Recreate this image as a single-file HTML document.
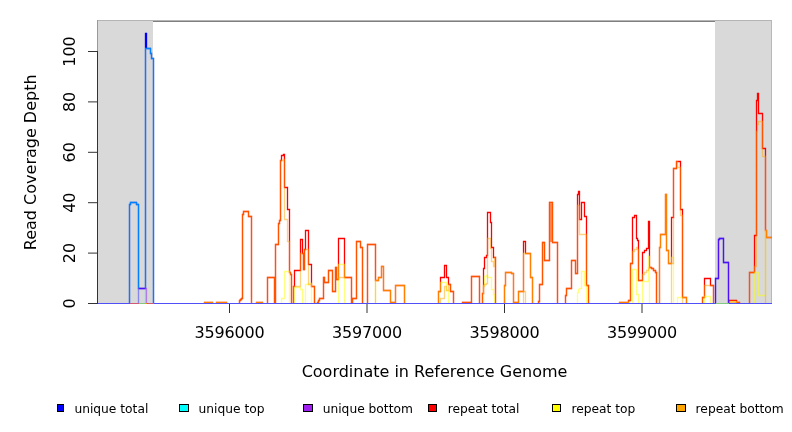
<!DOCTYPE html>
<html><head><meta charset="utf-8"><style>
html,body{margin:0;padding:0;background:#fff;width:792px;height:432px;overflow:hidden}
.t{font-family:"DejaVu Sans","Liberation Sans",sans-serif;font-size:16px;fill:#000}
.s{font-family:"DejaVu Sans","Liberation Sans",sans-serif;font-size:12.25px;fill:#000}
</style></head><body>
<svg width="792" height="432" viewBox="0 0 792 432" style="display:block;will-change:transform">
<rect width="792" height="432" fill="#fff"/>
<rect x="97" y="20" width="675" height="1" fill="#b4b4b4"/>
<rect x="97" y="21" width="675" height="1" fill="#7f7f7f"/>
<rect x="97" y="20" width="1" height="32" fill="#999"/>
<rect x="771" y="20" width="1" height="284" fill="#b8b8b8"/>
<rect x="98" y="21" width="55" height="282" fill="#d9d9d9"/>
<rect x="715" y="21" width="56" height="282" fill="#d9d9d9"/>
<path d="M204.5,303.5V302.5H212.5V303.5M216.5,303.5V302.5H226.5V303.5M239.5,303.5V300.5H240.5V299.5H241.5V298.5H242.5V214.5H243.5V211.5H248.5V216.5H251.5V303.5M256.5,303.5V302.5H262.5V303.5M267.5,303.5V277.5H274.5V303.5M275.5,303.5V244.5H278.5V223.5H279.5V220.5H280.5V160.5H281.5V155.5H283.5V154.5H284.5V187.5H287.5V209.5H289.5V272.5H290.5V274.5H291.5V303.5M293.5,303.5V286.5H294.5V270.5H300.5V239.5H302.5V253.5H303.5V269.5H304.5V249.5H305.5V230.5H308.5V264.5H311.5V286.5H314.5V303.5M317.5,303.5V302.5H318.5V300.5H319.5V298.5H323.5V277.5H324.5V282.5H328.5V270.5H332.5V291.5H335.5V267.5H336.5V279.5H338.5V238.5H344.5V277.5H351.5V303.5M352.5,303.5V298.5H356.5V241.5H360.5V247.5H362.5V303.5M367.5,303.5V244.5H375.5V280.5H378.5V277.5H381.5V266.5H383.5V290.5H390.5V302.5H395.5V285.5H404.5V303.5M438.5,303.5V291.5H440.5V277.5H444.5V265.5H446.5V277.5H448.5V284.5H450.5V291.5H453.5V303.5M462.5,303.5V302.5H471.5V276.5H479.5V303.5M482.5,303.5V293.5H483.5V268.5H484.5V257.5H486.5V255.5H487.5V212.5H490.5V222.5H491.5V247.5H493.5V257.5H495.5V303.5M504.5,303.5V285.5H505.5V272.5H511.5V273.5H513.5V302.5H518.5V291.5H523.5V241.5H525.5V253.5H530.5V277.5H532.5V303.5M538.5,303.5V301.5H539.5V284.5H542.5V242.5H544.5V260.5H549.5V202.5H552.5V242.5H557.5V303.5M565.5,303.5V295.5H566.5V288.5H571.5V260.5H575.5V273.5H577.5V194.5H578.5V191.5H579.5V219.5H581.5V202.5H584.5V216.5H586.5V285.5H588.5V303.5M619.5,303.5V302.5H628.5V300.5H630.5V263.5H632.5V217.5H634.5V215.5H636.5V238.5H637.5V240.5H638.5V280.5H642.5V252.5H644.5V250.5H646.5V248.5H648.5V221.5H649.5V267.5H651.5V268.5H653.5V270.5H655.5V272.5H656.5V303.5M659.5,303.5V247.5H660.5V234.5H665.5V194.5H666.5V250.5H668.5V263.5H671.5V217.5H673.5V168.5H676.5V161.5H680.5V209.5H682.5V297.5H686.5V303.5M702.5,303.5V297.5H704.5V278.5H710.5V285.5H713.5V303.5M729.5,303.5V300.5H736.5V302.5H739.5V303.5M749.5,303.5V272.5H754.5V235.5H756.5V100.5H757.5V93.5H758.5V113.5H762.5V148.5H765.5V230.5H766.5V237.5H772" fill="none" stroke="#ff0000" stroke-width="1.3"/>
<rect x="550" y="203" width="2" height="39" fill="#ff8050"/>
<path d="M204.5,303.5V302.5H212.5V303.5M216.5,303.5V302.5H226.5V303.5M256.5,303.5V302.5H262.5V303.5M281.5,303.5V298.5H284.5V271.5H289.5V303.5M294.5,303.5V287.5H300.5V289.5H302.5V303.5M305.5,303.5V284.5H308.5V283.5H311.5V303.5M338.5,303.5V264.5H344.5V303.5M375.5,303.5V280.5H378.5V277.5H381.5V266.5H383.5V290.5H390.5V302.5H395.5V285.5H404.5V303.5M438.5,303.5V291.5H440.5V282.5H446.5V290.5H448.5V303.5M483.5,303.5V285.5H484.5V276.5H486.5V275.5H487.5V277.5H491.5V289.5H493.5V294.5H494.5V303.5M504.5,303.5V285.5H505.5V272.5H511.5V273.5H513.5V302.5H518.5V291.5H523.5V253.5H530.5V277.5H532.5V303.5M577.5,303.5V292.5H578.5V289.5H579.5V288.5H581.5V271.5H584.5V285.5H586.5V303.5M619.5,303.5V302.5H628.5V303.5M632.5,303.5V269.5H636.5V294.5H638.5V303.5M642.5,303.5V281.5H648.5V256.5H649.5V303.5M659.5,303.5V247.5H660.5V234.5H665.5V194.5H666.5V250.5H668.5V263.5H671.5V257.5H673.5V303.5M677.5,303.5V297.5H686.5V303.5M704.5,303.5V296.5H710.5V303.5M729.5,303.5V301.5H736.5V303.5M754.5,303.5V272.5H758.5V295.5H765.5V230.5H766.5V237.5H772" fill="none" stroke="#ffff00" stroke-width="1.3" stroke-opacity="0.5"/>
<path d="M239.5,303.5V300.5H240.5V299.5H241.5V298.5H242.5V214.5H243.5V211.5H248.5V216.5H251.5V303.5M267.5,303.5V277.5H274.5V303.5M275.5,303.5V244.5H278.5V223.5H279.5V220.5H280.5V160.5H283.5V159.5H284.5V219.5H287.5V241.5H289.5V272.5H290.5V274.5H291.5V303.5M293.5,303.5V286.5H300.5V253.5H303.5V269.5H304.5V249.5H308.5V284.5H311.5V286.5H314.5V303.5M317.5,303.5V302.5H318.5V300.5H319.5V298.5H323.5V277.5H324.5V282.5H328.5V270.5H332.5V291.5H335.5V267.5H336.5V279.5H338.5V277.5H351.5V303.5M352.5,303.5V298.5H356.5V241.5H360.5V247.5H362.5V303.5M367.5,303.5V244.5H375.5V303.5M440.5,303.5V298.5H444.5V286.5H446.5V290.5H448.5V284.5H450.5V291.5H453.5V303.5M462.5,303.5V302.5H471.5V276.5H479.5V303.5M482.5,303.5V293.5H483.5V286.5H484.5V284.5H486.5V283.5H487.5V238.5H490.5V248.5H491.5V261.5H493.5V266.5H494.5V257.5H495.5V303.5M523.5,303.5V291.5H525.5V303.5M538.5,303.5V301.5H539.5V284.5H542.5V242.5H544.5V260.5H549.5V202.5H552.5V242.5H557.5V303.5M565.5,303.5V295.5H566.5V288.5H571.5V260.5H575.5V273.5H577.5V205.5H579.5V234.5H586.5V285.5H588.5V303.5M628.5,303.5V300.5H630.5V263.5H632.5V251.5H634.5V249.5H636.5V247.5H637.5V249.5H638.5V280.5H642.5V274.5H644.5V272.5H646.5V270.5H648.5V268.5H649.5V267.5H651.5V268.5H653.5V270.5H655.5V272.5H656.5V303.5M671.5,303.5V263.5H673.5V168.5H676.5V161.5H677.5V167.5H680.5V215.5H682.5V303.5M702.5,303.5V297.5H704.5V285.5H713.5V303.5M729.5,303.5V302.5H739.5V303.5M749.5,303.5V272.5H754.5V266.5H756.5V131.5H757.5V124.5H758.5V121.5H762.5V156.5H765.5V303.5" fill="none" stroke="#ffa500" stroke-width="1.3" stroke-opacity="0.5"/>
<path d="M129.5,303.5V204.5H130.5V202.5H136.5V204.5H138.5V288.5H145.5V33.5H146.5V48.5H150.5V53.5H151.5V58.5H153.5V303.5M715.5,303.5V278.5H718.5V239.5H719.5V238.5H723.5V262.5H728.5V303.5" fill="none" stroke="#0000ff" stroke-width="1.3"/>
<path d="M129.5,303.5V204.5H130.5V202.5H136.5V204.5H138.5V303.5M145.5,303.5V48.5H150.5V53.5H151.5V58.5H153.5V303.5" fill="none" stroke="#00ffff" stroke-width="1.3" stroke-opacity="0.5"/>
<path d="M138.5,303.5V288.5H146.5V303.5M715.5,303.5V278.5H718.5V239.5H719.5V238.5H723.5V262.5H728.5V303.5" fill="none" stroke="#a020f0" stroke-width="1.3" stroke-opacity="0.5"/>
<rect x="97" y="303" width="33" height="1" fill="#5050f8"/>
<rect x="130" y="303" width="9" height="1" fill="#d05978"/>
<rect x="139" y="303" width="7" height="1" fill="#80c980"/>
<rect x="146" y="303" width="1" height="1" fill="#ff9200"/>
<rect x="147" y="303" width="7" height="1" fill="#d05978"/>
<rect x="154" y="303" width="562" height="1" fill="#5050f8"/>
<rect x="716" y="303" width="13" height="1" fill="#80c980"/>
<rect x="729" y="303" width="43" height="1" fill="#5050f8"/>
<rect x="97" y="51" width="1" height="253" fill="#333"/>
<line x1="88" x2="97" y1="303.5" y2="303.5" stroke="#333" stroke-width="1"/>
<text x="0" y="0" transform="translate(75 303.5) rotate(-90)" text-anchor="middle" class="t">0</text>
<line x1="88" x2="97" y1="253.1" y2="253.1" stroke="#333" stroke-width="1"/>
<text x="0" y="0" transform="translate(75 253.1) rotate(-90)" text-anchor="middle" class="t">20</text>
<line x1="88" x2="97" y1="202.7" y2="202.7" stroke="#333" stroke-width="1"/>
<text x="0" y="0" transform="translate(75 202.7) rotate(-90)" text-anchor="middle" class="t">40</text>
<line x1="88" x2="97" y1="152.3" y2="152.3" stroke="#333" stroke-width="1"/>
<text x="0" y="0" transform="translate(75 152.3) rotate(-90)" text-anchor="middle" class="t">60</text>
<line x1="88" x2="97" y1="101.9" y2="101.9" stroke="#333" stroke-width="1"/>
<text x="0" y="0" transform="translate(75 101.9) rotate(-90)" text-anchor="middle" class="t">80</text>
<line x1="88" x2="97" y1="51.5" y2="51.5" stroke="#333" stroke-width="1"/>
<text x="0" y="0" transform="translate(75 51.5) rotate(-90)" text-anchor="middle" class="t">100</text>
<line x1="229.5" x2="229.5" y1="304" y2="313" stroke="#333" stroke-width="1"/>
<text x="229.5" y="337.8" text-anchor="middle" class="t" letter-spacing="-0.18">3596000</text>
<line x1="367.0" x2="367.0" y1="304" y2="313" stroke="#333" stroke-width="1"/>
<text x="367.0" y="337.8" text-anchor="middle" class="t" letter-spacing="-0.18">3597000</text>
<line x1="504.5" x2="504.5" y1="304" y2="313" stroke="#333" stroke-width="1"/>
<text x="504.5" y="337.8" text-anchor="middle" class="t" letter-spacing="-0.18">3598000</text>
<line x1="642.0" x2="642.0" y1="304" y2="313" stroke="#333" stroke-width="1"/>
<text x="642.0" y="337.8" text-anchor="middle" class="t" letter-spacing="-0.18">3599000</text>
<text x="434.5" y="376.7" text-anchor="middle" class="t">Coordinate in Reference Genome</text>
<text transform="translate(35.6 162.3) rotate(-90)" text-anchor="middle" class="t">Read Coverage Depth</text>
<rect x="57.5" y="404.5" width="6" height="7" fill="#0000ff" stroke="#000" stroke-width="1"/>
<text x="74.4" y="413" class="s">unique total</text>
<rect x="179.5" y="404.5" width="9" height="7" fill="#00ffff" stroke="#000" stroke-width="1"/>
<text x="198.6" y="413" class="s">unique top</text>
<rect x="303.5" y="404.5" width="9" height="7" fill="#a020f0" stroke="#000" stroke-width="1"/>
<text x="322.7" y="413" class="s">unique bottom</text>
<rect x="428.5" y="404.5" width="8" height="7" fill="#ff0000" stroke="#000" stroke-width="1"/>
<text x="447.7" y="413" class="s">repeat total</text>
<rect x="552.5" y="404.5" width="8" height="7" fill="#ffff00" stroke="#000" stroke-width="1"/>
<text x="571.5" y="413" class="s">repeat top</text>
<rect x="676.5" y="404.5" width="9" height="7" fill="#ffa500" stroke="#000" stroke-width="1"/>
<text x="695.6" y="413" class="s">repeat bottom</text>
</svg>
</body></html>
